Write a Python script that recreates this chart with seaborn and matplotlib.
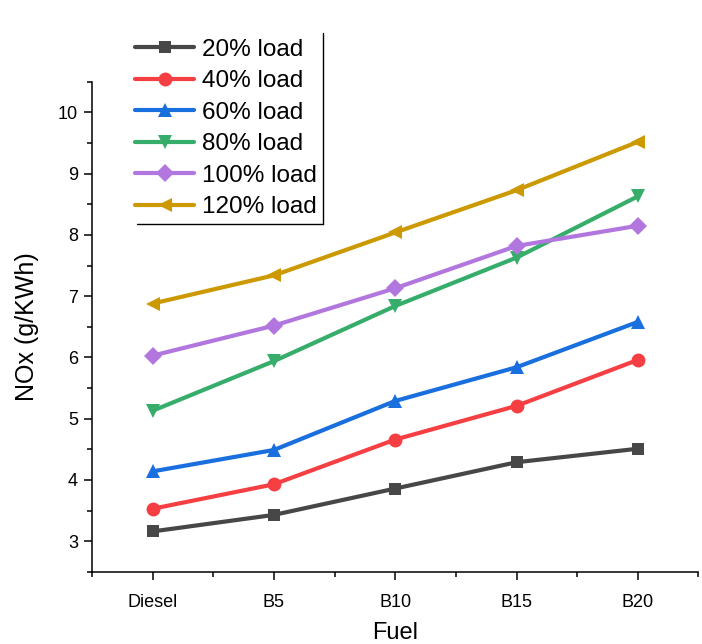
import numpy as np
import pandas as pd
import matplotlib
matplotlib.use("Agg")
import matplotlib.pyplot as plt
import seaborn as sns
from matplotlib.lines import Line2D
from matplotlib.ticker import MultipleLocator

fuels = ["Diesel", "B5", "B10", "B15", "B20"]
loads = ["20% load", "40% load", "60% load", "80% load", "100% load", "120% load"]
nox_20 = [3.16, 3.43, 3.86, 4.29, 4.51]
nox_40 = [3.53, 3.93, 4.66, 5.21, 5.96]
nox_60 = [4.14, 4.49, 5.29, 5.84, 6.58]
nox_80 = [5.13, 5.94, 6.84, 7.63, 8.63]
nox_100 = [6.03, 6.52, 7.13, 7.82, 8.15]
nox_120 = [6.88, 7.34, 8.04, 8.73, 9.52]
series = [nox_20, nox_40, nox_60, nox_80, nox_100, nox_120]

colors = ["#474747", "#f53f42", "#1a6fdf", "#37ad6b", "#b177de", "#cc9900"]
markers = ["s", "o", "^", "v", "D", "<"]
msizes = [9, 10, 10, 10, 9, 10]

rows = []
for load, vals in zip(loads, series):
    for i, (f, v) in enumerate(zip(fuels, vals)):
        rows.append({"Fuel": f, "pos": i, "Load": load, "NOx": v})
df = pd.DataFrame(rows)

sns.set_theme(style="ticks")
plt.rcParams["font.family"] = ["Liberation Sans", "DejaVu Sans"]
plt.rcParams["text.color"] = "black"
plt.rcParams["axes.labelcolor"] = "black"

fig = plt.figure(figsize=(7.02, 6.44), dpi=100)
ax = fig.add_axes([0.131, 0.112, 0.864, 0.761])

for load, c, m, ms in zip(loads, colors, markers, msizes):
    sub = df[df["Load"] == load]
    sns.lineplot(data=sub, x="pos", y="NOx", ax=ax, color=c, marker=m,
                 markersize=ms, markeredgewidth=0, linewidth=3.0, label=load,
                 legend=False)

ax.set_xlim(-0.5, 4.5)
ax.set_xticks(range(len(fuels)))
ax.set_xticklabels(fuels)
ax.xaxis.set_minor_locator(MultipleLocator(0.5))
ax.yaxis.set_minor_locator(MultipleLocator(0.5))
ax.set_yticks(np.arange(3, 11, 1))
ax.set_ylim(2.5, 10.5)
ax.tick_params(axis="both", which="major", direction="out", length=6, width=1.1,
               labelsize=13, colors="black", pad=4)
ax.tick_params(axis="both", which="minor", direction="out", length=3.5, width=1.1,
               colors="black")
ax.tick_params(axis="x", which="major", pad=10)
for s in ["top", "right"]:
    ax.spines[s].set_visible(False)
for s in ["left", "bottom"]:
    ax.spines[s].set_linewidth(1.1)
    ax.spines[s].set_color("black")

ax.set_xlabel("Fuel", fontsize=17, labelpad=8)
ax.set_ylabel("NOx (g/KWh)", fontsize=18, labelpad=14)

handles = [Line2D([0], [0], color=c, marker=m, markersize=ms, markeredgewidth=0,
                  linewidth=3.0) for c, m, ms in zip(colors, markers, msizes)]
leg = fig.legend(handles, loads, loc="upper left", bbox_to_anchor=(0.166, 0.968),
                 frameon=False, fontsize=17.5, handlelength=2.45, handletextpad=0.3,
                 labelspacing=0.39, borderpad=0.25)

fig.canvas.draw()
bb = leg.get_window_extent().transformed(fig.transFigure.inverted())
fig.add_artist(Line2D([bb.x0 + 0.012, bb.x1], [bb.y0, bb.y0], color="black",
                      linewidth=1.0, transform=fig.transFigure))
fig.add_artist(Line2D([bb.x1, bb.x1], [bb.y0, min(bb.y1, 0.99)], color="black",
                      linewidth=1.0, transform=fig.transFigure))

fig.savefig("out.png", dpi=100, facecolor="white")
